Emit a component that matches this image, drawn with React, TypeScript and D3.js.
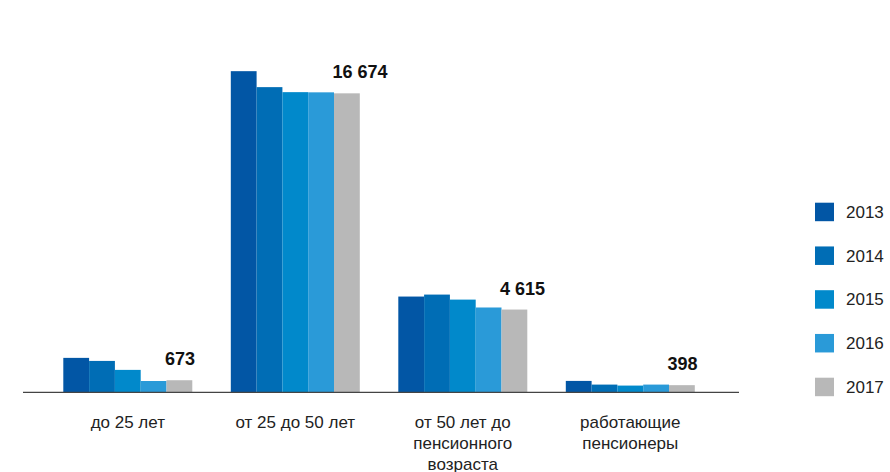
import React from "react";
import * as d3 from "d3";

const categories = [
  "до 25 лет",
  "от 25 до 50 лет",
  "от 50 лет до пенсионного возраста",
  "работающие пенсионеры",
];
const categoryLines = [
  ["до 25 лет"],
  ["от 25 до 50 лет"],
  ["от 50 лет до", "пенсионного", "возраста"],
  ["работающие", "пенсионеры"],
];
const years = ["2013", "2014", "2015", "2016", "2017"];
const values2013 = [1920, 17910, 5340, 635];
const values2014 = [1750, 17020, 5450, 430];
const values2015 = [1250, 16740, 5170, 375];
const values2016 = [630, 16730, 4730, 430];
const values2017 = [673, 16674, 4615, 398];
const seriesValues = [values2013, values2014, values2015, values2016, values2017];
const colors = ["#0256a5", "#006db5", "#0189cb", "#2a9ad8", "#b8b8b8"];

const W = 890;
const H = 472;
const baseY = 392.3;
const font = "'Liberation Sans', Arial, Helvetica, sans-serif";

const fmt = d3.formatLocale({
  decimal: ",",
  thousands: " ",
  grouping: [3],
  currency: ["", ""],
}).format(",d");

export default function App() {
  const x0 = d3
    .scaleBand<string>()
    .domain(categories)
    .range([44.05, 714.05])
    .paddingInner(0.2299)
    .paddingOuter(0.11495);
  const x1 = d3.scaleBand<string>().domain(years).range([0, x0.bandwidth()]).padding(0);
  const y = d3.scaleLinear().domain([0, 20000]).range([baseY, baseY - 20000 * 0.01793]);

  return (
    <svg
      width={W}
      height={H}
      style={{ position: "absolute", left: 0, top: 0, background: "#fff" }}
      fontFamily={font}
    >
      {seriesValues.map((vals, si) =>
        vals.map((v, ci) => (
          <rect
            key={`${si}-${ci}`}
            x={(x0(categories[ci]) as number) + (x1(years[si]) as number)}
            y={y(v)}
            width={x1.bandwidth()}
            height={baseY - y(v)}
            fill={colors[si]}
          />
        ))
      )}
      <line x1={23} x2={739} y1={baseY} y2={baseY} stroke="#444" strokeWidth={1.2} />
      {values2017.map((v, ci) => (
        <text
          key={`lbl-${ci}`}
          x={(x0(categories[ci]) as number) + (x1("2017") as number) - 1.5}
          y={y(v) - 15}
          fontSize={18}
          fontWeight="bold"
          fill="#111"
        >
          {fmt(v)}
        </text>
      ))}
      {categoryLines.map((lines, ci) => (
        <text
          key={`cat-${ci}`}
          x={(x0(categories[ci]) as number) + x0.bandwidth() / 2}
          y={428}
          fontSize={17}
          fill="#222"
          textAnchor="middle"
        >
          {lines.map((ln, li) => (
            <tspan key={li} x={(x0(categories[ci]) as number) + x0.bandwidth() / 2} dy={li === 0 ? 0 : 21}>
              {ln}
            </tspan>
          ))}
        </text>
      ))}
      {years.map((yr, i) => (
        <g key={`lg-${yr}`} transform={`translate(815, ${202.7 + i * 43.75})`}>
          <rect x={0} y={0} width={19} height={18.5} fill={colors[i]} />
          <text x={31} y={15.3} fontSize={17} fill="#222">
            {yr}
          </text>
        </g>
      ))}
    </svg>
  );
}
